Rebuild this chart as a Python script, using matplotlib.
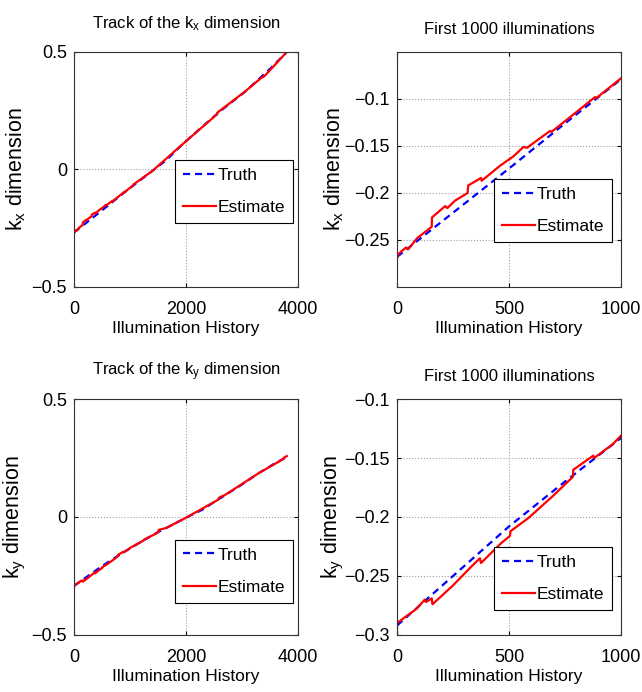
import matplotlib
matplotlib.use("Agg")
import matplotlib.pyplot as plt

plt.rcParams['font.family'] = ['Liberation Sans', 'DejaVu Sans']
plt.rcParams['mathtext.fontset'] = 'custom'
plt.rcParams['mathtext.rm'] = 'Liberation Sans'
plt.rcParams['axes.unicode_minus'] = True

# k_x truth and estimate (illumination index, value)
kx_truth_x = [0, 250, 500, 750, 1000, 1400, 1650, 1950, 2300, 2600, 3050, 3500, 3800]
kx_truth = [-0.268, -0.221, -0.174, -0.126, -0.079, -0.006, 0.040, 0.110, 0.184,
            0.246, 0.330, 0.428, 0.500]
kx_est_x = [0, 3, 20, 40, 50, 80, 90, 155, 156, 215, 225, 260, 315, 318, 375, 378,
            460, 520, 565, 580, 683, 690, 790, 884, 890, 1000, 1050, 1060, 1400,
            1950, 2550, 2560, 3050, 3350, 3400, 3800]
kx_est = [-0.270, -0.266, -0.262, -0.258, -0.260, -0.251, -0.248, -0.236, -0.226,
          -0.214, -0.216, -0.208, -0.200, -0.192, -0.184, -0.187, -0.171, -0.161,
          -0.151, -0.152, -0.134, -0.135, -0.116, -0.098, -0.099, -0.078, -0.069,
          -0.064, -0.006, 0.110, 0.234, 0.242, 0.331, 0.391, 0.397, 0.500]

# k_y truth and estimate
ky_truth_x = [0, 250, 500, 750, 1000, 1250, 1500, 1750, 2000, 2300, 2600, 2950,
              3300, 3550, 3800]
ky_truth = [-0.292, -0.250, -0.208, -0.170, -0.133, -0.098, -0.064, -0.034, -0.003,
            0.032, 0.078, 0.130, 0.186, 0.222, 0.255]
ky_est_x = [0, 0, 42, 86, 124, 130, 155, 158, 250, 332, 370, 375, 466, 504, 507,
            586, 697, 785, 787, 876, 880, 951, 960, 1000, 1240, 1250, 1500, 1510,
            1650, 2000, 2580, 2590, 2700, 3300, 3740, 3750, 3800]
ky_est = [-0.300, -0.290, -0.284, -0.278, -0.270, -0.272, -0.269, -0.274, -0.258,
          -0.242, -0.235, -0.239, -0.222, -0.216, -0.212, -0.201, -0.182, -0.166,
          -0.160, -0.148, -0.150, -0.140, -0.139, -0.131, -0.100, -0.096, -0.066,
          -0.055, -0.046, -0.003, 0.074, 0.082, 0.094, 0.186, 0.246, 0.252, 0.258]

# ticks
full_xticks = [0, 2000, 4000]
full_yticks = [-0.5, 0, 0.5]
full_yticklabels = ['\u22120.5', '0', '0.5']
zoom_xticks = [0, 500, 1000]
kx_zoom_yticks = [-0.25, -0.2, -0.15, -0.1]
kx_zoom_yticklabels = ['\u22120.25', '\u22120.2', '\u22120.15', '\u22120.1']
ky_zoom_yticks = [-0.3, -0.25, -0.2, -0.15, -0.1]
ky_zoom_yticklabels = ['\u22120.3', '\u22120.25', '\u22120.2', '\u22120.15', '\u22120.1']

fig = plt.figure(figsize=(6.42, 6.92), dpi=100)

def panel(rect, tx, ty, ex, ey, xlim, ylim, xt, yt, ytl, title, tpad, ylab, ylx,
          leg_anchor):
    ax = fig.add_axes(rect)
    ax.plot(tx, ty, color='#0000ff', lw=1.6, ls=(0, (3.2, 2.2)), label='Truth')
    ax.plot(ex, ey, color='#ff0000', lw=1.6, label='Estimate')
    ax.set_xlim(xlim)
    ax.set_ylim(ylim)
    ax.set_xticks(xt)
    ax.set_xticklabels([str(v) for v in xt])
    ax.set_yticks(yt)
    ax.set_yticklabels(ytl)
    ax.grid(True, ls=':', color='#a0a0a0', lw=0.8)
    ax.tick_params(direction='in', top=True, right=True, length=3, width=0.8,
                   labelsize=13)
    ax.tick_params(axis='x', pad=10)
    ax.tick_params(axis='y', pad=5)
    for s in ax.spines.values():
        s.set_linewidth(0.8)
        s.set_color('#333333')
    ax.set_title(title, fontsize=12, pad=tpad)
    ax.set_xlabel('Illumination History', fontsize=12.5, labelpad=2)
    ax.set_ylabel(ylab, fontsize=15.5)
    ax.yaxis.set_label_coords(ylx, 0.5)
    leg = ax.legend(loc='lower right', bbox_to_anchor=leg_anchor, borderaxespad=0,
                    fontsize=12.5, fancybox=False, framealpha=1, edgecolor='black',
                    handlelength=1.9, handletextpad=0.1, labelspacing=1.0,
                    borderpad=0.45)
    leg.get_frame().set_linewidth(0.8)
    return ax

kx_lab = r'$\mathregular{k_x}$ dimension'
ky_lab = r'$\mathregular{k_y}$ dimension'

panel([0.1153, 0.5853, 0.3489, 0.3396], kx_truth_x, kx_truth, kx_est_x, kx_est,
      (0, 4000), (-0.5, 0.5), full_xticks, full_yticks, full_yticklabels,
      r'Track of the $\mathregular{k_x}$ dimension', 17, kx_lab, -0.207, (0.978, 0.272))
panel([0.6184, 0.5853, 0.3489, 0.3396], kx_truth_x, kx_truth, kx_est_x, kx_est,
      (0, 1000), (-0.3, -0.05), zoom_xticks, kx_zoom_yticks, kx_zoom_yticklabels,
      'First 1000 illuminations', 13, kx_lab, -0.229, (0.960, 0.191))
panel([0.1153, 0.0824, 0.3489, 0.341], ky_truth_x, ky_truth, ky_est_x, ky_est,
      (0, 4000), (-0.5, 0.5), full_xticks, full_yticks, full_yticklabels,
      r'Track of the $\mathregular{k_y}$ dimension', 17, ky_lab, -0.207, (0.978, 0.136))
panel([0.6184, 0.0824, 0.3489, 0.341], ky_truth_x, ky_truth, ky_est_x, ky_est,
      (0, 1000), (-0.3, -0.1), zoom_xticks, ky_zoom_yticks, ky_zoom_yticklabels,
      'First 1000 illuminations', 13, ky_lab, -0.229, (0.960, 0.106))

fig.savefig('out.png', dpi=100)
